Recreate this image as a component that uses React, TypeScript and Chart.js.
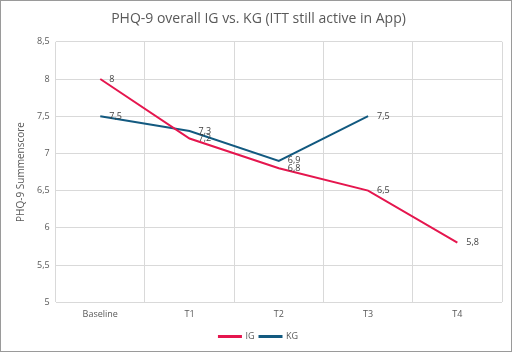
import React, { useEffect, useRef } from "react";
import { Chart, registerables } from "chart.js";

Chart.register(...registerables);

const categories = ["Baseline", "T1", "T2", "T3", "T4"];
const igValues = [8, 7.2, 6.8, 6.5, 5.8];
const kgValues = [7.5, 7.3, 6.9, 7.5, null];
const yTicks = [5, 5.5, 6, 6.5, 7, 7.5, 8, 8.5];

const FONT = "'Open Sans', 'Liberation Sans', sans-serif";
const fmt = (v: number) => String(v).replace(".", ",");

const labelPlugin = {
  id: "valueLabels",
  afterDatasetsDraw(chart: any) {
    const ctx = chart.ctx;
    ctx.save();
    ctx.font = `9px ${FONT}`;
    ctx.fillStyle = "#404040";
    ctx.textAlign = "left";
    ctx.textBaseline = "middle";
    chart.data.datasets.forEach((ds: any, i: number) => {
      const meta = chart.getDatasetMeta(i);
      meta.data.forEach((pt: any, j: number) => {
        const v = ds.data[j];
        if (v === null || v === undefined) return;
        ctx.fillText(fmt(v), pt.x + 9, pt.y);
      });
    });
    ctx.restore();
  },
};

export default function App() {
  const ref = useRef<HTMLCanvasElement>(null);
  useEffect(() => {
    const chart = new Chart(ref.current!, {
      type: "line",
      data: {
        labels: categories,
        datasets: [
          {
            label: "IG",
            data: igValues,
            borderColor: "#E5164E",
            backgroundColor: "#E5164E",
            borderWidth: 2,
            pointRadius: 0,
            tension: 0,
          },
          {
            label: "KG",
            data: kgValues,
            borderColor: "#135A80",
            backgroundColor: "#135A80",
            borderWidth: 2,
            pointRadius: 0,
            tension: 0,
            spanGaps: false,
          },
        ],
      },
      options: {
        animation: false,
        responsive: false,
        maintainAspectRatio: false,
        layout: { padding: { left: 14, right: 9, top: 4, bottom: 0 } },
        plugins: {
          title: {
            display: true,
            text: "PHQ-9 overall IG vs. KG (ITT still active in App)",
            color: "#595959",
            font: { family: FONT, size: 14, weight: "normal" },
            padding: { top: 6, bottom: 14 },
          },
          legend: {
            position: "bottom",
            labels: {
              color: "#595959",
              font: { family: FONT, size: 9 },
              boxWidth: 22,
              boxHeight: 1,
              padding: 5,
            },
          },
          tooltip: { enabled: false },
        },
        scales: {
          x: {
            offset: true,
            grid: { offset: true, color: "#d9d9d9", drawTicks: false },
            border: { display: false },
            ticks: {
              color: "#595959",
              font: { family: FONT, size: 9 },
              padding: 7,
            },
          },
          y: {
            min: 5,
            max: 8.5,
            afterBuildTicks: (axis: any) => {
              axis.ticks = yTicks.map((v) => ({ value: v }));
            },
            grid: { color: "#d9d9d9", drawTicks: false },
            border: { display: false },
            ticks: {
              color: "#595959",
              font: { family: FONT, size: 9 },
              padding: 6,
              callback: (v: any) => fmt(Number(v)),
            },
            title: {
              display: true,
              text: "PHQ-9 Summenscore",
              color: "#595959",
              font: { family: FONT, size: 10 },
              padding: { top: 0, bottom: 4 },
            },
          },
        },
      },
      plugins: [labelPlugin],
    });
    return () => chart.destroy();
  }, []);
  return (
    <div
      style={{
        position: "fixed",
        left: 0,
        top: 0,
        width: 512,
        height: 352,
        boxSizing: "border-box",
        border: "1px solid #9a9a9a",
        background: "#fff",
      }}
    >
      <canvas ref={ref} width={510} height={350} style={{ display: "block" }} />
    </div>
  );
}
